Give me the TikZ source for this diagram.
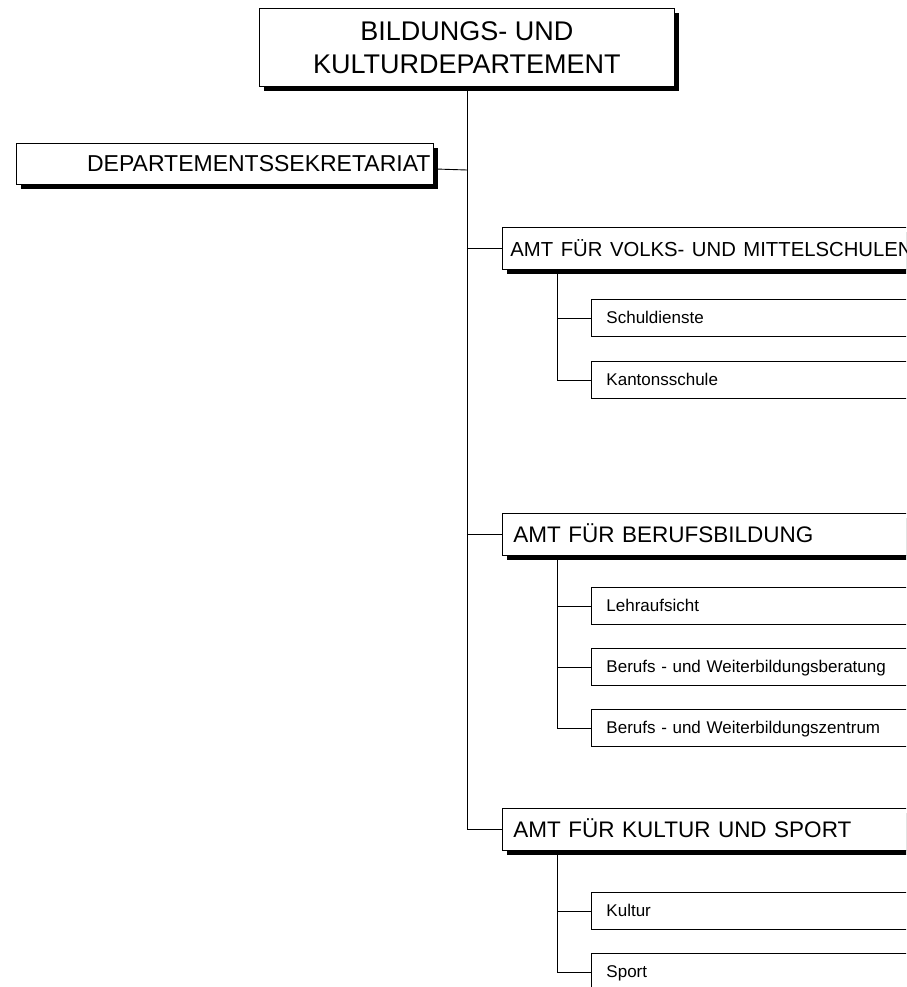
\documentclass[tikz,border=0pt]{standalone}
\usepackage{fontspec}
\setmainfont{Liberation Sans}
\usetikzlibrary{shadows}

\tikzset{
  kasten/.style={draw, fill=white, line width=0.9pt, anchor=north west, inner ysep=0pt},
  schatten/.style={drop shadow={shadow xshift=5pt, shadow yshift=-5pt, fill=black, opacity=1}},
  dept/.style={kasten, schatten, minimum width=415pt, minimum height=78pt, align=center,
    font=\fontsize{27}{33}\selectfont},
  sekr/.style={kasten, schatten, minimum height=41pt, text width=411pt, inner xsep=3pt, align=right,
    text height=16pt, text depth=0pt, font=\fontsize{23}{27}\selectfont},
  amt/.style={kasten, schatten, minimum height=42pt, text width=420pt, inner xsep=11pt, align=left,
    text height=16pt, text depth=0pt, font=\fontsize{22.5}{27}\selectfont},
  stelle/.style={kasten, minimum height=37pt, text width=320pt, inner xsep=15pt, align=left,
    text height=12pt, text depth=0pt, font=\fontsize{17}{20}\selectfont},
  linie/.style={line width=0.9pt}
}

\begin{document}
\begin{tikzpicture}[x=1pt,y=-1pt]
\pgfmathsetmacro{\ax}{502}
\pgfmathsetmacro{\sx}{591}
\useasboundingbox (0,0) rectangle (906,987);
\clip (0,0) rectangle (906,987);

\node[dept] (bkd) at (259,8) {BILDUNGS- UND\\KULTURDEPARTEMENT};
\node[sekr] (sekr) at (16,143) {DEPARTEMENTSSEKRETARIAT};

\node[amt, inner xsep=8pt] (avm) at (\ax,227) {\fontsize{20.3}{25}\selectfont AMT FÜR VOLKS- UND MITTELSCHULEN};
\node[stelle] (schul) at (\sx,299) {Schuldienste};
\node[stelle] (kanti) at (\sx,361) {Kantonsschule};

\node[amt] (abb) at (\ax,513) {AMT FÜR BERUFSBILDUNG};
\node[stelle] (lehr) at (\sx,587) {Lehraufsicht};
\node[stelle] (bwb) at (\sx,648) {Berufs - und Weiterbildungsberatung};
\node[stelle] (bwz) at (\sx,709) {Berufs - und Weiterbildungszentrum};

\node[amt] (aks) at (\ax,808) {AMT FÜR KULTUR UND SPORT};
\node[stelle] (kultur) at (\sx,892) {Kultur};
\node[stelle] (sport) at (\sx,953) {Sport};

% Hauptlinie
\coordinate (jsekr) at (bkd.south |- 0,170);
\draw[linie] (bkd.south) |- (aks.west);
\draw[linie] ([yshift=-5pt]sekr.east) -- (jsekr);
\draw[linie] (bkd.south |- avm.west) -- (avm.west);
\draw[linie] (bkd.south |- abb.west) -- (abb.west);

% Unterlinien
\coordinate (vavm) at ([xshift=55pt]avm.south west);
\coordinate (vabb) at ([xshift=55pt]abb.south west);
\coordinate (vaks) at ([xshift=55pt]aks.south west);
\draw[linie] (vavm) |- (kanti.west);
\draw[linie] (vavm |- schul.west) -- (schul.west);
\draw[linie] (vabb) |- (bwz.west);
\draw[linie] (vabb |- lehr.west) -- (lehr.west);
\draw[linie] (vabb |- bwb.west) -- (bwb.west);
\draw[linie] (vaks) |- (sport.west);
\draw[linie] (vaks |- kultur.west) -- (kultur.west);
\end{tikzpicture}
\end{document}
